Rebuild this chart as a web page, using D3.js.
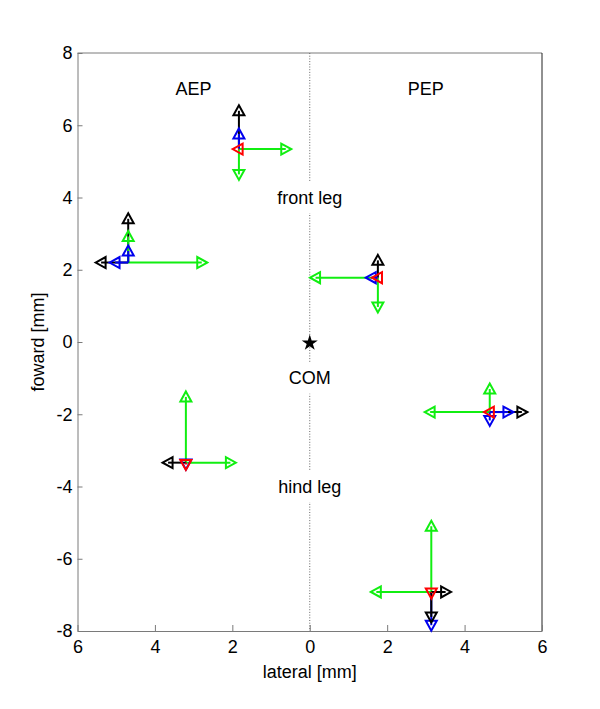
<!DOCTYPE html>
<html>
<head>
<meta charset="utf-8">
<script src="https://cdn.jsdelivr.net/npm/d3@7"></script>
<style>
  body { margin: 0; background: #fff; }
  svg text { font-family: "Liberation Sans", Arial, Helvetica, sans-serif; }
</style>
</head>
<body>
<div id="chart"></div>
<script>
// foot positions [mm]: AEP on the left half, PEP on the right half
const footNames = ["front AEP", "middle AEP", "hind AEP", "front PEP", "middle PEP", "hind PEP"];
const footX = [-1.83, -4.69, -3.20, 1.76, 4.65, 3.14];
const footY = [5.34, 2.20, -3.34, 1.78, -1.94, -6.92];

// displacement vectors per foot: [series, dx, dy]
const arrowsFrontAEP = [["k", 0, 1.06], ["b", 0, 0.42], ["r", -0.02, 0], ["g", 0, -0.70], ["g", 1.21, 0]];
const arrowsMiddleAEP = [["k", 0, 1.21], ["g", 0, 0.72], ["b", 0, 0.32], ["b", -0.34, 0], ["k", -0.70, 0], ["g", 1.90, 0]];
const arrowsHindAEP = [["g", 0, 1.82], ["g", 1.15, 0], ["k", -0.46, 0], ["r", 0, -0.05], ["b", 0, -0.04]];
const arrowsFrontPEP = [["k", 0, 0.48], ["g", -1.61, 0], ["b", -0.17, 0], ["r", -0.01, 0], ["g", 0, -0.81]];
const arrowsMiddlePEP = [["g", 0, 0.64], ["g", -1.54, 0], ["r", -0.01, 0], ["b", 0, -0.23], ["b", 0.47, 0], ["k", 0.83, 0]];
const arrowsHindPEP = [["g", 0, 1.82], ["g", -1.42, 0], ["k", 0.37, 0], ["r", 0, -0.03], ["k", 0, -0.69], ["b", 0, -0.92]];
const footArrows = [arrowsFrontAEP, arrowsMiddleAEP, arrowsHindAEP, arrowsFrontPEP, arrowsMiddlePEP, arrowsHindPEP];

// annotations
const sideLabels = [{ text: "AEP", x: -3, y: 7 }, { text: "PEP", x: 3, y: 7 }];
const midLabels = [{ text: "front leg", y: 4 }, { text: "COM", y: -1 }, { text: "hind leg", y: -4 }];

const xTicks = [-6, -4, -2, 0, 2, 4, 6];
const yTicks = [-8, -6, -4, -2, 0, 2, 4, 6, 8];

const width = 600, height = 709;
const margin = { top: 53, right: 58, bottom: 78, left: 77.5 };

const x = d3.scaleLinear().domain([-6, 6]).range([margin.left, width - margin.right]);
const y = d3.scaleLinear().domain([-8, 8]).range([height - margin.bottom, margin.top]);
const color = d3.scaleOrdinal().domain(["k", "b", "r", "g"]).range(["#000000", "#0000ee", "#ff0000", "#11ee11"]);

const svg = d3.select("#chart").append("svg")
    .attr("width", width)
    .attr("height", height)
    .attr("viewBox", [0, 0, width, height]);

const axisGray = "#7a7a7a";

// box top and right edges
svg.append("line")
    .attr("x1", x(-6)).attr("x2", x(6))
    .attr("y1", y(8)).attr("y2", y(8))
    .attr("stroke", axisGray);
svg.append("line")
    .attr("x1", x(6)).attr("x2", x(6))
    .attr("y1", y(8)).attr("y2", y(-8))
    .attr("stroke", "#222");

// axes with inward ticks
const gx = svg.append("g")
    .attr("transform", `translate(0,${y(-8)})`)
    .call(d3.axisBottom(x).tickValues(xTicks).tickFormat(d => String(Math.abs(d)))
        .tickSizeInner(-6).tickSizeOuter(0).tickPadding(9));
const gy = svg.append("g")
    .attr("transform", `translate(${x(-6)},0)`)
    .call(d3.axisLeft(y).tickValues(yTicks).tickFormat(d => String(d))
        .tickSizeInner(-5).tickSizeOuter(0).tickPadding(5));

[gx, gy].forEach(g => {
    g.attr("font-size", 18).attr("font-family", null);
    g.select(".domain").attr("stroke", axisGray);
    g.selectAll(".tick line").attr("stroke", axisGray);
    g.selectAll(".tick text").attr("fill", "#000");
});

svg.append("text")
    .attr("x", x(0)).attr("y", 678)
    .attr("text-anchor", "middle")
    .attr("font-size", 18)
    .text("lateral [mm]");
svg.append("text")
    .attr("transform", `translate(44,${y(0)}) rotate(-90)`)
    .attr("text-anchor", "middle")
    .attr("font-size", 18)
    .text("foward [mm]");

// dotted midline
svg.append("line")
    .attr("x1", x(0)).attr("x2", x(0))
    .attr("y1", y(8)).attr("y2", y(-8))
    .attr("stroke", "#666")
    .attr("stroke-width", 1)
    .attr("stroke-dasharray", "1,1.7");

// labels on the midline sit on white boxes
const mid = svg.append("g");
midLabels.forEach(d => {
    const g = mid.append("g");
    const rect = g.append("rect").attr("fill", "#fff");
    const t = g.append("text")
        .attr("x", x(0)).attr("y", y(d.y))
        .attr("dy", "0.35em")
        .attr("text-anchor", "middle")
        .attr("font-size", 18)
        .text(d.text);
    const bb = t.node().getBBox();
    rect.attr("x", bb.x - 5).attr("width", bb.width + 10)
        .attr("y", y(d.y) - 15.5).attr("height", 31);
});

svg.selectAll(".side")
    .data(sideLabels)
    .enter()
    .append("text")
    .attr("x", d => x(d.x)).attr("y", d => y(d.y))
    .attr("dy", "0.35em")
    .attr("text-anchor", "middle")
    .attr("font-size", 18)
    .text(d => d.text);

// flatten arrows, longest first so shorter ones stay visible; red always on top
const arrows = [];
footArrows.forEach((list, i) => {
    const items = list.map(([s, dx, dy]) => ({
        foot: footNames[i], s,
        x0: footX[i], y0: footY[i],
        x1: footX[i] + dx, y1: footY[i] + dy,
        len: Math.hypot(dx, dy),
        angle: Math.abs(dx) > Math.abs(dy) ? (dx > 0 ? 90 : 270) : (dy > 0 ? 0 : 180)
    }));
    items.sort((a, b) => ((a.s === "r") - (b.s === "r")) || (b.len - a.len));
    arrows.push(...items);
});

// open triangle marker pointing up, rotated per direction
const tri = "M0,-5.5L5.5,4.5L-5.5,4.5Z";

const ga = svg.append("g").attr("fill", "none").attr("stroke-width", 2);
ga.selectAll("line")
    .data(arrows)
    .enter()
    .append("line")
    .attr("x1", d => x(d.x0)).attr("y1", d => y(d.y0))
    .attr("x2", d => x(d.x1)).attr("y2", d => y(d.y1))
    .attr("stroke", d => color(d.s));
ga.selectAll("path")
    .data(arrows)
    .enter()
    .append("path")
    .attr("d", tri)
    .attr("transform", d => `translate(${x(d.x1)},${y(d.y1)}) rotate(${d.angle})`)
    .attr("stroke", d => color(d.s))
    .attr("stroke-linejoin", "miter");

// centre of mass
svg.append("path")
    .attr("d", d3.symbol(d3.symbolStar, 80)())
    .attr("transform", `translate(${x(0)},${y(0) + 1})`)
    .attr("fill", "#000");
</script>
</body>
</html>
